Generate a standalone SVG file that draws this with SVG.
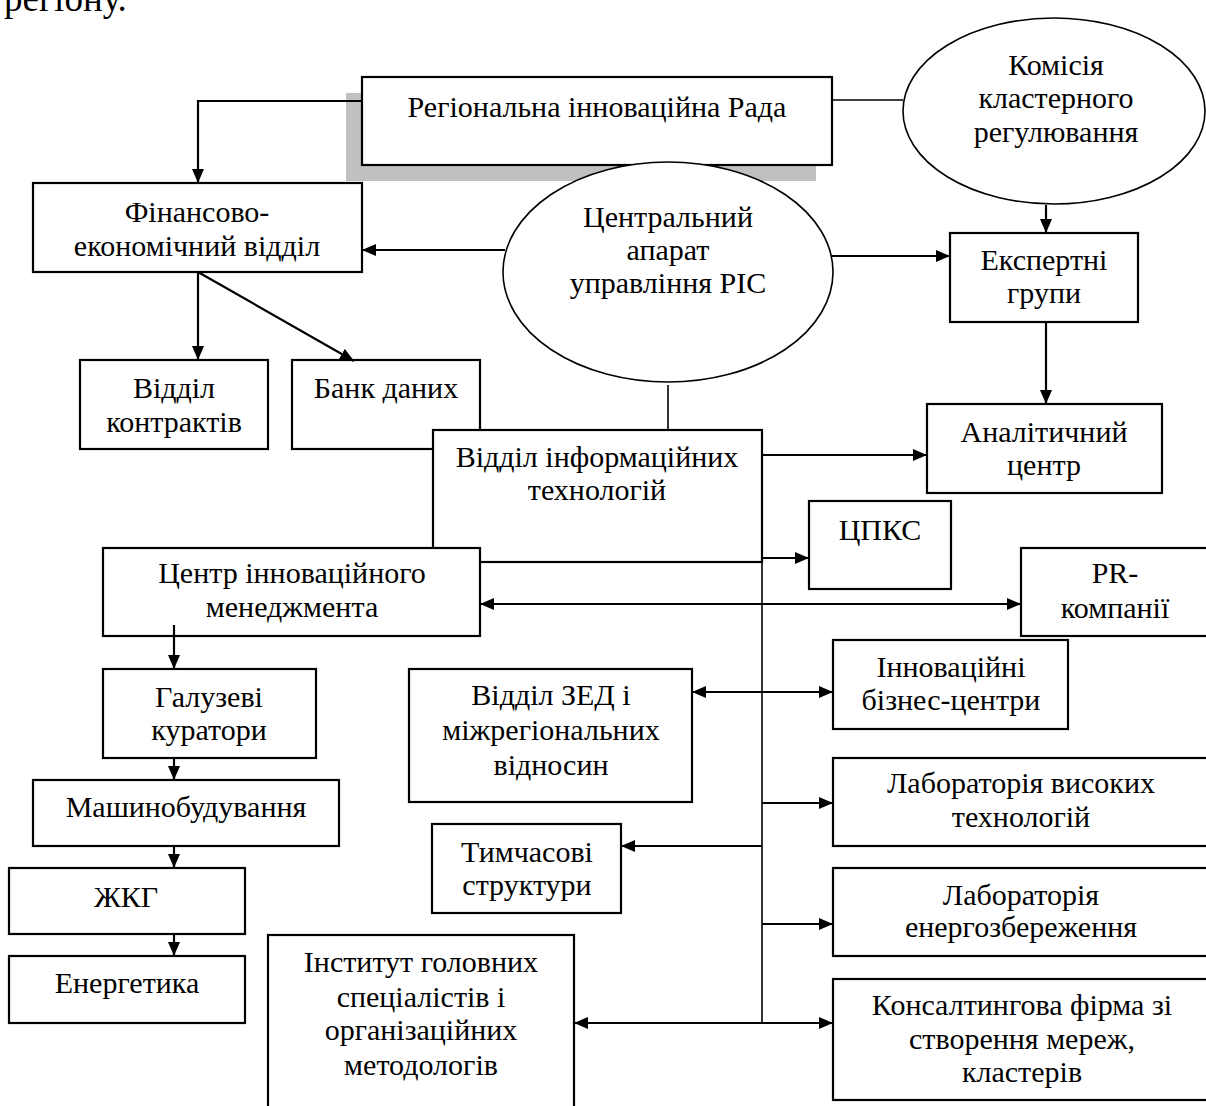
<svg xmlns="http://www.w3.org/2000/svg" width="1206" height="1106" viewBox="0 0 1206 1106">
<defs>
<marker id="arr" markerUnits="userSpaceOnUse" markerWidth="14" markerHeight="12" refX="14" refY="6" orient="auto-start-reverse">
<path d="M0,0 L14,6 L0,12 z" fill="#000"/>
</marker>
<style>
text{font-family:"Liberation Serif","Times New Roman",serif;font-size:30px;fill:#000;text-anchor:middle}
.box{fill:#fff;stroke:#000;stroke-width:2.2}
.ell{fill:#fff;stroke:#000;stroke-width:1.6}
.c{fill:none;stroke:#000;stroke-width:2.2}
.t{fill:none;stroke:#000;stroke-width:1.6}
.a{marker-end:url(#arr)}
.d{marker-start:url(#arr);marker-end:url(#arr)}
</style>
</defs>
<rect width="1206" height="1106" fill="#fff"/>
<text x="4" y="11" style="text-anchor:start;font-size:37px">регіону.</text>

<g id="rada">
<rect x="346" y="93" width="470" height="88" fill="#c0c0c0"/>
<rect class="box" x="362" y="77" width="470" height="88"/>
<text x="597" y="117">Регіональна інноваційна Рада</text>
</g>
<g id="komisiya">
<ellipse class="ell" cx="1054" cy="111" rx="151" ry="93"/>
<text x="1056" y="75">Комісія</text>
<text x="1056" y="108">кластерного</text>
<text x="1056" y="142">регулювання</text>
</g>
<g id="finansovo">
<rect class="box" x="33" y="183" width="329" height="89"/>
<text x="197" y="222">Фінансово-</text>
<text x="197" y="256">економічний відділ</text>
</g>
<g id="centralnyi">
<ellipse class="ell" cx="668" cy="272" rx="165" ry="110"/>
<text x="668" y="227">Центральний</text>
<text x="668" y="260">апарат</text>
<text x="668" y="293">управління РІС</text>
</g>
<g id="ekspertni">
<rect class="box" x="950" y="233" width="188" height="89"/>
<text x="1044" y="270">Експертні</text>
<text x="1044" y="303">групи</text>
</g>
<g id="kontrakty">
<rect class="box" x="80" y="360" width="188" height="89"/>
<text x="174" y="398">Відділ</text>
<text x="174" y="432">контрактів</text>
</g>
<g id="bank">
<rect class="box" x="292" y="360" width="188" height="89"/>
<text x="386" y="398">Банк даних</text>
</g>
<g id="it">
<rect class="box" x="433" y="430" width="329" height="132"/>
<text x="597" y="467">Відділ інформаційних</text>
<text x="597" y="500">технологій</text>
</g>
<g id="analit">
<rect class="box" x="927" y="404" width="235" height="89"/>
<text x="1044" y="442">Аналітичний</text>
<text x="1044" y="475">центр</text>
</g>
<g id="cpks">
<rect class="box" x="809" y="501" width="142" height="88"/>
<text x="880" y="540">ЦПКС</text>
</g>
<g id="centr">
<rect class="box" x="103" y="548" width="377" height="88"/>
<text x="292" y="583">Центр інноваційного</text>
<text x="292" y="617">менеджмента</text>
</g>
<g id="pr">
<rect class="box" x="1021" y="548" width="200" height="88"/>
<text x="1115" y="583">PR-</text>
<text x="1115" y="618">компанії</text>
</g>
<g id="innov">
<rect class="box" x="833" y="640" width="235" height="89"/>
<text x="951" y="677">Інноваційні</text>
<text x="951" y="710">бізнес-центри</text>
</g>
<g id="zed">
<rect class="box" x="409" y="669" width="283" height="133"/>
<text x="551" y="705">Відділ ЗЕД і</text>
<text x="551" y="740">міжрегіональних</text>
<text x="551" y="775">відносин</text>
</g>
<g id="lab-vysokykh">
<rect class="box" x="833" y="758" width="390" height="88"/>
<text x="1021" y="793">Лабораторія високих</text>
<text x="1021" y="827">технологій</text>
</g>
<g id="tymchasovi">
<rect class="box" x="432" y="824" width="189" height="89"/>
<text x="527" y="862">Тимчасові</text>
<text x="527" y="895">структури</text>
</g>
<g id="lab-energo">
<rect class="box" x="833" y="868" width="390" height="88"/>
<text x="1021" y="905">Лабораторія</text>
<text x="1021" y="937">енергозбереження</text>
</g>
<g id="konsalt">
<rect class="box" x="833" y="979" width="390" height="121"/>
<text x="1022" y="1015">Консалтингова фірма зі</text>
<text x="1022" y="1049">створення мереж,</text>
<text x="1022" y="1082">кластерів</text>
</g>
<g id="instytut">
<rect class="box" x="268" y="935" width="306" height="190"/>
<text x="421" y="972">Інститут головних</text>
<text x="421" y="1007">спеціалістів і</text>
<text x="421" y="1040">організаційних</text>
<text x="421" y="1075">методологів</text>
</g>
<g id="galuzevi">
<rect class="box" x="103" y="669" width="213" height="89"/>
<text x="209" y="707">Галузеві</text>
<text x="209" y="740">куратори</text>
</g>
<g id="mashyno">
<rect class="box" x="33" y="780" width="306" height="66"/>
<text x="186" y="817">Машинобудування</text>
</g>
<g id="zhkg">
<rect class="box" x="9" y="868" width="236" height="66"/>
<text x="126" y="907">ЖКГ</text>
</g>
<g id="energetyka">
<rect class="box" x="9" y="956" width="236" height="67"/>
<text x="127" y="993">Енергетика</text>
</g>

<g id="connectors">
<path class="c a" d="M362,101 H198 V183"/>
<path class="t" d="M832,100 H903"/>
<path class="c a" d="M505,250 H362"/>
<path class="c a" d="M832,256 H950"/>
<path class="c a" d="M1046,205 V233"/>
<path class="c a" d="M1046,322 V404"/>
<path class="t" d="M668,385 V430"/>
<path class="c a" d="M198,272 V360"/>
<path class="c a" d="M198,272 L354,361"/>
<path class="c a" d="M762,455 H927"/>
<path class="c a" d="M762,558 H809"/>
<path class="c d" d="M480,604 H1021"/>
<path class="t" d="M762,562 V1023"/>
<path class="c d" d="M692,692 H833"/>
<path class="c a" d="M762,803 H833"/>
<path class="c a" d="M762,846 H621"/>
<path class="c a" d="M762,924 H833"/>
<path class="c d" d="M574,1023 H833"/>
<path class="c a" d="M174,625 V669"/>
<path class="c a" d="M174,758 V780"/>
<path class="c a" d="M174,846 V868"/>
<path class="c a" d="M174,934 V956"/>
</g>
</svg>
